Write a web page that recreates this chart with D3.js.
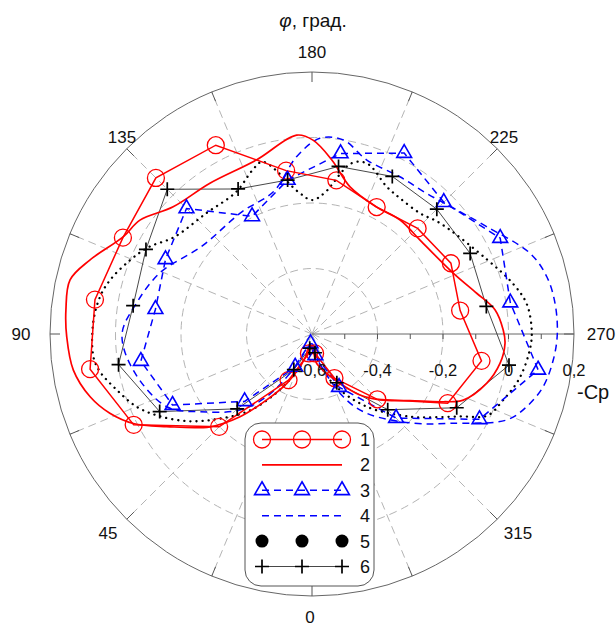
<!DOCTYPE html>
<html>
<head>
<meta charset="utf-8">
<script src="https://cdn.jsdelivr.net/npm/d3@7"></script>
<style>
  body { margin: 0; background: #fff; }
  svg { display: block; }
  text { font-family: "Liberation Sans", Arial, sans-serif; fill: #111; }
</style>
</head>
<body>
<svg id="chart" width="616" height="626"></svg>
<script>
// Angles (degrees) at which the measured series carry markers
const markerAngles = [9, 27, 45, 63, 81, 99, 117, 135, 153, 171, 189, 207, 225, 243, 261, 279, 297, 315, 333, 351];

// Series 1: experiment (circles)
const series1 = [-0.540, -0.442, -0.199, 0.011, 0.086, 0.071, 0.048, 0.074, 0.047, -0.095,
                 -0.125, -0.165, -0.144, -0.124, -0.142, -0.076, -0.135, -0.318, -0.449, -0.540];
// Series 3: experiment (triangles)
const series3 = [-0.571, -0.487, -0.309, -0.122, -0.071, -0.116, -0.098, -0.058, -0.197, -0.124,
                 -0.042, 0.020, -0.031, 0.045, 0.013, 0.099, -0.026, -0.237, -0.418, -0.534];
// Series 6: experiment (plus signs)
const series6 = [-0.556, -0.478, -0.277, -0.078, -0.002, -0.047, -0.031, 0.025, -0.103, -0.124,
                 -0.082, -0.060, -0.061, -0.058, -0.061, 0.009, -0.104, -0.273, -0.433, -0.542];

// Series 2: computed curve (red, solid)
const series2Angles = [0, 20, 27, 34.5, 41, 47.7, 57.5, 63.4, 68.6, 74.2, 81.4, 89.4, 95.6, 102.6, 108.4,
                       117.3, 123.5, 132.5, 145.9, 162.4, 175.6, 180.3, 186.5, 194.5, 207, 217.7, 229,
                       246.8, 256.1, 262.5, 268.8, 272.8, 278.9, 285.8, 293.6, 297.3, 304.2, 314.1,
                       321.8, 330.4, 350.9];
const series2Values = [-0.560, -0.494, -0.431, -0.356, -0.265, -0.179, -0.074, 0.010, 0.063, 0.104, 0.137,
                       0.149, 0.155, 0.157, 0.115, 0.048, 0.030, -0.025, -0.044, -0.042, 0.009, -0.008,
                       -0.065, -0.136, -0.165, -0.160, -0.163, -0.130, -0.082, -0.036, -0.016, -0.010,
                       -0.019, -0.046, -0.096, -0.149, -0.238, -0.311, -0.363, -0.427, -0.509];

// Series 4: computed curve (blue, dashed)
const series4Angles = [0, 29.2, 35.9, 43.5, 55.2, 63.4, 78.6, 90, 100, 112, 128.6, 150, 164.8, 175.1,
                       182.3, 189.2, 197.5, 209.2, 219.2, 229.4, 238.4, 249.7, 256.3, 262.8, 270,
                       276.1, 282.8, 288.7, 293.8, 302.9, 311.4, 325.4, 333.5, 350];
const series4Values = [-0.570, -0.463, -0.364, -0.280, -0.184, -0.104, -0.043, -0.020, -0.056, -0.100,
                       -0.170, -0.170, -0.150, -0.056, -0.002, 0.000, -0.043, -0.050, -0.046, -0.018,
                       0.026, 0.110, 0.138, 0.148, 0.149, 0.141, 0.124, 0.092, 0.050, -0.098, -0.188,
                       -0.306, -0.386, -0.530];

// Series 5: computed curve (black, dotted)
const series5Angles = [0, 20, 30, 39, 48, 55, 62, 67.5, 74, 80, 84, 93, 100, 105, 112, 118, 125, 139,
                       152, 160, 164, 175, 180, 185, 193, 198, 207, 213, 222, 229, 247, 256, 262, 269,
                       274, 282, 289, 295, 299, 306, 310, 323, 337, 350];
const series5Values = [-0.560, -0.494, -0.403, -0.300, -0.212, -0.136, -0.068, -0.020, 0.020, 0.058,
                       0.071, 0.069, 0.057, 0.038, 0.000, -0.035, -0.085, -0.110, -0.108, -0.068,
                       -0.053, -0.168, -0.191, -0.168, -0.065, -0.053, -0.096, -0.106, -0.105, -0.083,
                       -0.019, 0.033, 0.062, 0.071, 0.067, 0.048, 0.018, -0.010, -0.081, -0.167,
                       -0.207, -0.322, -0.436, -0.530];

// Axis definitions
const radialTicks = [-0.6, -0.4, -0.2, 0, 0.2];
const radialMinorTicks = [-0.5, -0.4, -0.3, -0.2, -0.1, 0, 0.1];
const gridRings = [-0.4, -0.2, 0];
const angleLabels = [0, 45, 90, 135, 180, 225, 270, 315];
const legendLabels = ["1", "2", "3", "4", "5", "6"];

const fmt = v => (v === 0 ? "0" : d3.format(".1f")(v).replace(".", ",").replace("−", "-"));

const svg = d3.select("#chart");
const cx = 312, cy = 334, R = 262;

const rScale = d3.scaleLinear().domain([-0.6, 0.2]).range([0, R]);
// phi = 0 at the bottom, increasing clockwise (90 left, 180 top, 270 right)
const aScale = d3.scaleLinear().domain([0, 360]).range([Math.PI, 3 * Math.PI]);
const pt = (phi, r) => {
  const a = aScale(phi);
  return [cx + r * Math.sin(a), cy - r * Math.cos(a)];
};

const g = svg.append("g");

// Dashed radial spokes every 22.5 degrees
const spokeAngles = d3.range(0, 360, 22.5).filter(a => a % 90 !== 0);
g.selectAll("line.spoke").data(spokeAngles).join("line")
  .attr("x1", cx).attr("y1", cy)
  .attr("x2", d => pt(d, R)[0]).attr("y2", d => pt(d, R)[1])
  .attr("stroke", "#b4b4b4").attr("stroke-width", 1).attr("stroke-dasharray", "8,5");

// Dashed rings
g.selectAll("circle.ring").data(gridRings).join("circle")
  .attr("cx", cx).attr("cy", cy).attr("r", d => rScale(d))
  .attr("fill", "none").attr("stroke", "#b4b4b4").attr("stroke-width", 1)
  .attr("stroke-dasharray", "8,5");

// Outer circle
g.append("circle").attr("cx", cx).attr("cy", cy).attr("r", R)
  .attr("fill", "none").attr("stroke", "#666").attr("stroke-width", 1);

// Angular ticks on the outer circle
g.selectAll("line.atick").data(d3.range(0, 360, 22.5)).join("line")
  .attr("x1", d => pt(d, R)[0]).attr("y1", d => pt(d, R)[1])
  .attr("x2", d => pt(d, R - 10)[0]).attr("y2", d => pt(d, R - 10)[1])
  .attr("stroke", "#555").attr("stroke-width", 1);

// Radial axis along 270 degrees
g.append("line").attr("x1", cx).attr("y1", cy).attr("x2", cx + R).attr("y2", cy)
  .attr("stroke", "#666").attr("stroke-width", 1);
g.selectAll("line.rtick").data(radialMinorTicks).join("line")
  .attr("x1", d => cx + rScale(d)).attr("x2", d => cx + rScale(d))
  .attr("y1", cy).attr("y2", cy + 5)
  .attr("stroke", "#555").attr("stroke-width", 1);

// Data
const radial = (curve) => d3.lineRadial()
  .angle(d => aScale(d[0]))
  .radius(d => rScale(d[1]))
  .curve(curve);

const zip = (as, vs) => as.map((a, i) => [a, vs[i]]);
const s1 = zip(markerAngles, series1);
const s3 = zip(markerAngles, series3);
const s6 = zip(markerAngles, series6);
const s2 = zip(series2Angles, series2Values);
const s4 = zip(series4Angles, series4Values);
const s5 = zip(series5Angles, series5Values);

const plot = g.append("g").attr("transform", `translate(${cx},${cy})`);

plot.append("path").attr("d", radial(d3.curveLinearClosed)(s6))
  .attr("fill", "none").attr("stroke", "#333").attr("stroke-width", 0.9);
plot.append("path").attr("d", radial(d3.curveCatmullRomClosed.alpha(0.5))(s5))
  .attr("fill", "none").attr("stroke", "#000").attr("stroke-width", 2.3)
  .attr("stroke-linecap", "round").attr("stroke-dasharray", "0.1,6");
plot.append("path").attr("d", radial(d3.curveCatmullRomClosed.alpha(0.5))(s4))
  .attr("fill", "none").attr("stroke", "#0000ff").attr("stroke-width", 1.5)
  .attr("stroke-dasharray", "7,5");
plot.append("path").attr("d", radial(d3.curveLinearClosed)(s3))
  .attr("fill", "none").attr("stroke", "#0000ff").attr("stroke-width", 1.5)
  .attr("stroke-dasharray", "7,5");
plot.append("path").attr("d", radial(d3.curveCatmullRomClosed.alpha(0.5))(s2))
  .attr("fill", "none").attr("stroke", "#ff0000").attr("stroke-width", 1.7);
plot.append("path").attr("d", radial(d3.curveLinearClosed)(s1))
  .attr("fill", "none").attr("stroke", "#ff0000").attr("stroke-width", 1.5);

const xy = d => [rScale(d[1]) * Math.sin(aScale(d[0])), -rScale(d[1]) * Math.cos(aScale(d[0]))];

const triSym = d3.symbol().type(d3.symbolTriangle).size(95);
const crossPath = s => `M${-s},0H${s}M0,${-s}V${s}`;

plot.selectAll("circle.m1").data(s1).join("circle")
  .attr("cx", d => xy(d)[0]).attr("cy", d => xy(d)[1]).attr("r", 8.5)
  .attr("fill", "none").attr("stroke", "#ff0000").attr("stroke-width", 1.3);
plot.selectAll("path.m3").data(s3).join("path")
  .attr("transform", d => `translate(${xy(d)[0]},${xy(d)[1]})`)
  .attr("d", triSym).attr("fill", "none").attr("stroke", "#0000ff").attr("stroke-width", 1.6);
plot.selectAll("path.m6").data(s6).join("path")
  .attr("transform", d => `translate(${xy(d)[0]},${xy(d)[1]})`)
  .attr("d", crossPath(7)).attr("fill", "none").attr("stroke", "#000").attr("stroke-width", 1.7);

// Radial tick labels
g.selectAll("text.rlab").data(radialTicks).join("text")
  .attr("x", d => cx + rScale(d)).attr("y", cy + 42)
  .attr("text-anchor", "middle").attr("font-size", 16.5)
  .text(fmt);
g.append("text").attr("x", 577).attr("y", 399).attr("font-size", 20).text("-Cp");

// Angle labels
const angleLabelPos = {0: [310, 617], 45: [108, 533], 90: [21, 334], 135: [122, 137],
                       180: [312, 52], 225: [504, 137], 270: [601, 334], 315: [518, 533]};
g.selectAll("text.alab").data(angleLabels).join("text")
  .attr("x", d => angleLabelPos[d][0]).attr("y", d => angleLabelPos[d][1])
  .attr("dy", "0.35em").attr("text-anchor", "middle").attr("font-size", 17)
  .text(d => d);

// Title
const title = g.append("text").attr("x", 313).attr("y", 27).attr("text-anchor", "middle").attr("font-size", 19);
title.append("tspan").attr("font-style", "italic").text("φ");
title.append("tspan").text(", град.");

// Legend
const lg = g.append("g");
lg.append("rect").attr("x", 245).attr("y", 423).attr("width", 129).attr("height", 163)
  .attr("rx", 16).attr("fill", "#fff").attr("stroke", "#555").attr("stroke-width", 1);
const rowY = i => 439.5 + i * 25.4;
const lx = [262, 302, 342];
legendLabels.forEach((lab, i) => {
  const y = rowY(i);
  lg.append("text").attr("x", 360).attr("y", y).attr("dy", "0.36em").attr("font-size", 18).text(lab);
});
// 1
lg.append("line").attr("x1", lx[0]).attr("x2", lx[2]).attr("y1", rowY(0)).attr("y2", rowY(0))
  .attr("stroke", "#ff0000").attr("stroke-width", 1.5);
lg.selectAll("circle.l1").data(lx).join("circle").attr("cx", d => d).attr("cy", rowY(0)).attr("r", 8.5)
  .attr("fill", "none").attr("stroke", "#ff0000").attr("stroke-width", 1.3);
// 2
lg.append("line").attr("x1", lx[0]).attr("x2", lx[2]).attr("y1", rowY(1)).attr("y2", rowY(1))
  .attr("stroke", "#ff0000").attr("stroke-width", 1.7);
// 3
lg.append("line").attr("x1", lx[0]).attr("x2", lx[2]).attr("y1", rowY(2)).attr("y2", rowY(2))
  .attr("stroke", "#0000ff").attr("stroke-width", 1.5).attr("stroke-dasharray", "7,5");
lg.selectAll("path.l3").data(lx).join("path").attr("transform", d => `translate(${d},${rowY(2)})`)
  .attr("d", triSym).attr("fill", "none").attr("stroke", "#0000ff").attr("stroke-width", 1.6);
// 4
lg.append("line").attr("x1", lx[0]).attr("x2", lx[2]).attr("y1", rowY(3)).attr("y2", rowY(3))
  .attr("stroke", "#0000ff").attr("stroke-width", 1.5).attr("stroke-dasharray", "7,5");
// 5
lg.selectAll("circle.l5").data(lx).join("circle").attr("cx", d => d).attr("cy", rowY(4)).attr("r", 6.5)
  .attr("fill", "#000");
// 6
lg.append("line").attr("x1", lx[0]).attr("x2", lx[2]).attr("y1", rowY(5)).attr("y2", rowY(5))
  .attr("stroke", "#333").attr("stroke-width", 0.9);
lg.selectAll("path.l6").data(lx).join("path").attr("transform", d => `translate(${d},${rowY(5)})`)
  .attr("d", crossPath(7)).attr("fill", "none").attr("stroke", "#000").attr("stroke-width", 1.7);
</script>
</body>
</html>
